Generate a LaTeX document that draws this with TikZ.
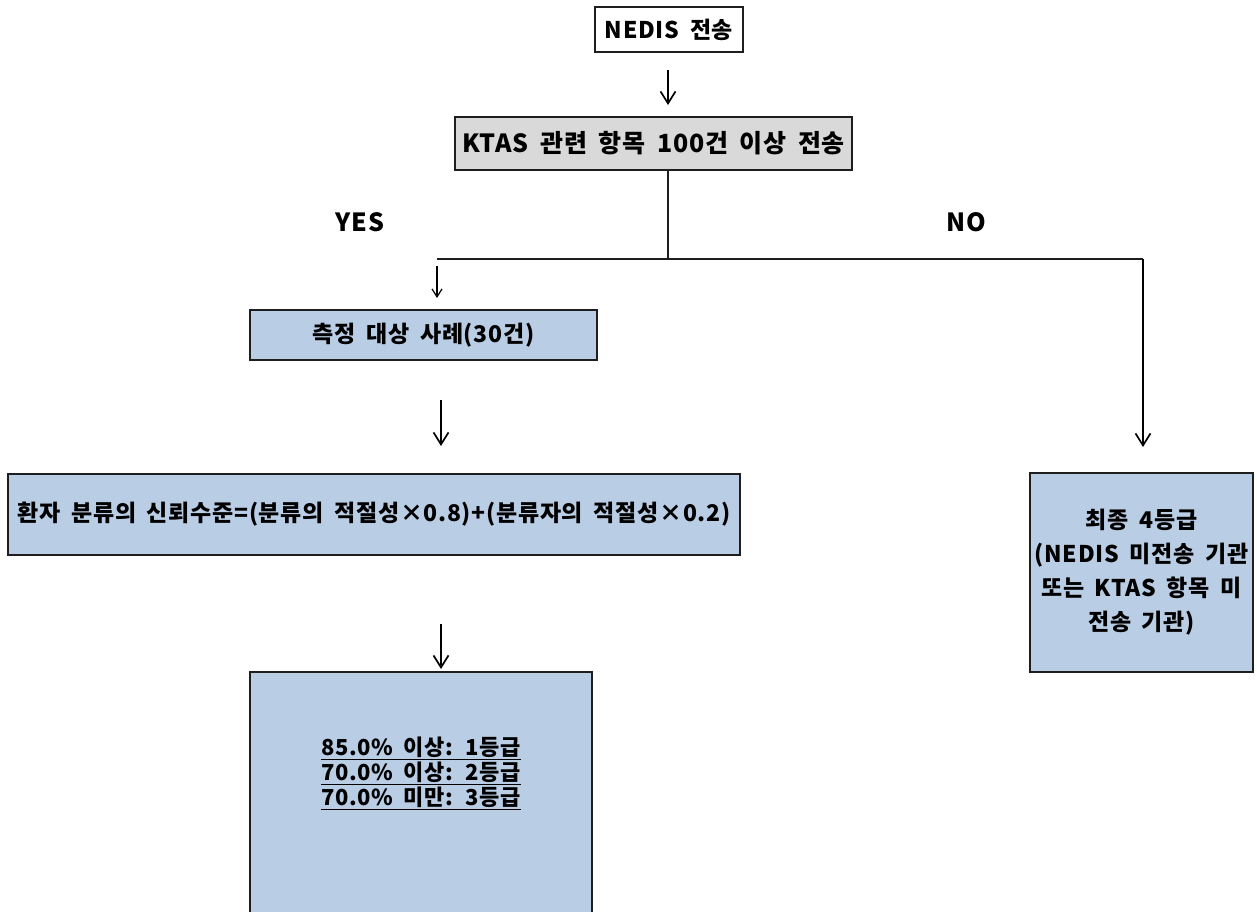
\documentclass[tikz,border=0pt]{standalone}
\usepackage{fontspec}
\setmainfont{Noto Sans CJK KR}[LetterSpace=3,WordSpace=1.8]
\usetikzlibrary{arrows.meta}
\definecolor{boxblue}{RGB}{185,205,229}
\definecolor{boxgray}{RGB}{217,217,217}
\definecolor{boxline}{RGB}{30,30,30}
\begin{document}
\begin{tikzpicture}[x=1pt,y=-1pt,font=\bfseries]
\useasboundingbox (0,0) rectangle (1257,911);
\tikzset{
  box/.style={draw=boxline,line width=1.3pt,inner sep=0pt,align=center,font=\bfseries\fontsize{23}{28}\selectfont},
  bluebox/.style={box,fill=boxblue},
  graybox/.style={box,fill=boxgray},
  bigarr/.style={line width=1.7pt,-{Straight Barb[length=12pt,width=15pt,line width=1.7pt]}},
  smallarr/.style={line width=1.2pt,-{Straight Barb[length=8pt,width=10pt,line width=1.2pt]}},
  plain/.style={line width=1.2pt,draw=boxline},
  lbl/.style={font=\bfseries\fontsize{25}{28}\selectfont}
}
% boxes
\node[box,minimum width=148pt,minimum height=45pt] (nedis) at (669,29.5) {NEDIS 전송};
\node[graybox,minimum width=397pt,minimum height=53pt,font=\bfseries\fontsize{25}{28}\selectfont] (ktas) at (653.5,143.5) {KTAS 관련 항목 100건 이상 전송};
\node[bluebox,minimum width=347pt,minimum height=50pt] (case) at (423.5,335) {측정 대상 사례(30건)};
\node[bluebox,minimum width=732pt,minimum height=81pt] (formula) at (374,514.5) {환자 분류의 신뢰수준=(분류의 적절성×0.8)+(분류자의 적절성×0.2)};
\node[bluebox,minimum width=342pt,minimum height=246pt] (grade) at (421,795) {};
\node[align=center,font=\bfseries\fontsize{22}{25}\selectfont] (gradetxt) at (421,773) {\underline{85.0\% 이상: 1등급}\\\underline{70.0\% 이상: 2등급}\\\underline{70.0\% 미만: 3등급}};
\node[bluebox,minimum width=223pt,minimum height=199pt,font=\bfseries\fontsize{23}{34}\selectfont] (four) at (1141.5,572.5) {최종 4등급\\(NEDIS 미전송 기관\\또는 KTAS 항목 미\\전송 기관)};
% labels
\node[lbl] (yes) at (360,222) {YES};
\node[lbl] (no) at (966,222) {NO};
% coordinates
\coordinate (split) at (668,259);
\coordinate (lj) at (437,259);
\coordinate (rj) at (1143,259);
\coordinate (sa1) at (437,266);
\coordinate (sa2) at (437,298);
\coordinate (ra) at (1143,447);
\coordinate (a1s) at (668,70);
\coordinate (a1e) at (668,105);
\coordinate (a2s) at (441,400);
\coordinate (a2e) at (441,446);
\coordinate (a3s) at (441,624);
\coordinate (a3e) at (441,669);
% connectors
\draw[bigarr] (a1s) -- (a1e);
\draw[plain] (ktas.south -| split) -- (split);
\draw[plain] (lj) -- (rj);
\draw[smallarr] (sa1) -- (sa2);
\draw[bigarr] (rj) -- (ra);
\draw[bigarr] (a2s) -- (a2e);
\draw[bigarr] (a3s) -- (a3e);
\end{tikzpicture}
\end{document}
